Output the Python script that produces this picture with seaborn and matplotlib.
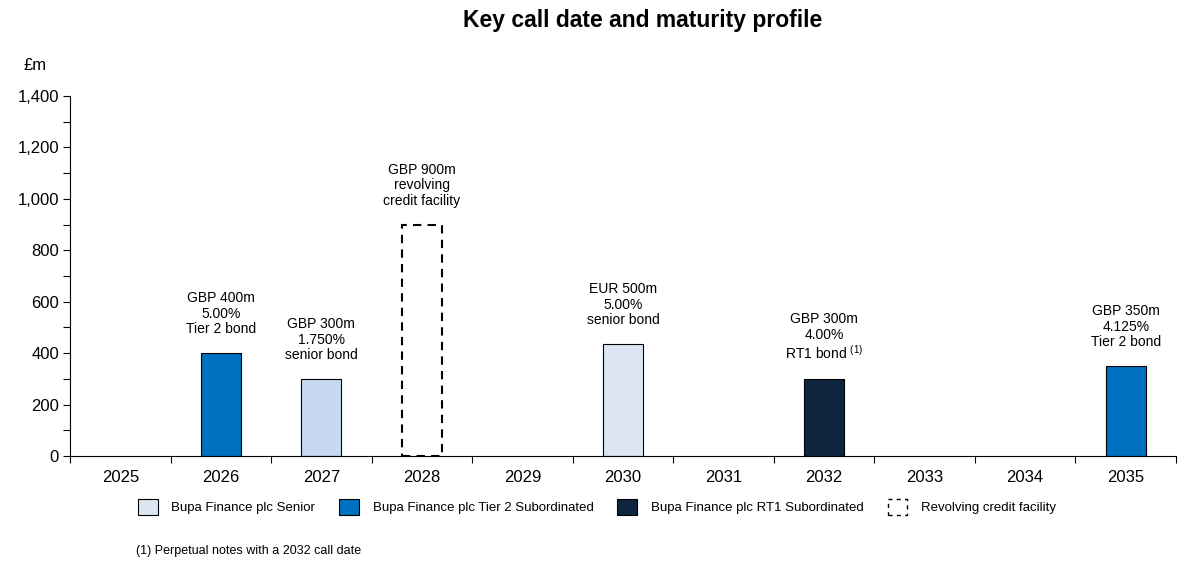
import numpy as np
import pandas as pd
import matplotlib
matplotlib.use("Agg")
import matplotlib.pyplot as plt
from matplotlib.patches import Patch
from matplotlib.ticker import MultipleLocator, FixedLocator
import seaborn as sns

years = ["2025", "2026", "2027", "2028", "2029", "2030", "2031", "2032", "2033", "2034", "2035"]

# bonds (GBP m equivalent)
bond_years = ["2026", "2027", "2030", "2032", "2035"]
bond_amounts = [400, 300, 435, 300, 350]
bond_kinds = ["Tier 2", "Senior", "Senior", "RT1", "Tier 2"]
bond_labels = [
    "GBP 400m\n5.00%\nTier 2 bond",
    "GBP 300m\n1.750%\nsenior bond",
    "EUR 500m\n5.00%\nsenior bond",
    "GBP 300m\n4.00%\nRT1 bond $^{\\mathrm{(1)}}$",
    "GBP 350m\n4.125%\nTier 2 bond",
]

# revolving credit facility
rcf_years = ["2028"]
rcf_amounts = [900]
rcf_labels = ["GBP 900m\nrevolving\ncredit facility"]

legend_names = ["Bupa Finance plc Senior", "Bupa Finance plc Tier 2 Subordinated",
                "Bupa Finance plc RT1 Subordinated", "Revolving credit facility"]

bar_colours = {"2026": "#0070C0", "2027": "#C6D9F1", "2030": "#DCE6F2",
               "2032": "#0F243E", "2035": "#0070C0"}

sns.set_style("white")
plt.rcParams["font.family"] = ["Liberation Sans", "DejaVu Sans"]
plt.rcParams["mathtext.fontset"] = "custom"
plt.rcParams["mathtext.rm"] = "Liberation Sans"
plt.rcParams["text.color"] = "black"
plt.rcParams["xtick.color"] = "black"
plt.rcParams["ytick.color"] = "black"

bonds = pd.DataFrame({"year": bond_years, "amount": bond_amounts, "kind": bond_kinds})
rcf = pd.DataFrame({"year": rcf_years, "amount": rcf_amounts})

fig = plt.figure(figsize=(11.95, 5.72), dpi=100)
ax = fig.add_axes([70 / 1195, 1 - 456 / 572, 1106 / 1195, 360 / 572])

sns.barplot(data=bonds, x="year", y="amount", hue="year", order=years, palette=bar_colours,
            saturation=1, dodge=False, width=0.4, edgecolor="black", linewidth=0.8,
            legend=False, ax=ax)
sns.barplot(data=rcf, x="year", y="amount", order=years, fill=False, color="black",
            saturation=1, width=0.4, linewidth=1.5, linestyle=(0, (4, 3)), ax=ax)

for yr, amt, lab in zip(bond_years + rcf_years, bond_amounts + rcf_amounts, bond_labels + rcf_labels):
    ax.annotate(lab, xy=(years.index(yr), amt), xytext=(0, 12), textcoords="offset points",
                ha="center", va="bottom", fontsize=10, multialignment="center", linespacing=1.15)

ax.set_xlim(-0.5, len(years) - 0.5)
ax.set_ylim(0, 1400)
ax.yaxis.set_major_locator(MultipleLocator(200))
ax.yaxis.set_minor_locator(MultipleLocator(100))
ax.yaxis.set_major_formatter(matplotlib.ticker.FuncFormatter(lambda v, p: f"{v:,.0f}"))
ax.xaxis.set_minor_locator(FixedLocator(np.arange(-0.5, len(years), 1.0)))
ax.tick_params(axis="x", which="major", length=0, pad=10, labelsize=12)
ax.tick_params(axis="x", which="minor", length=5, width=0.8, direction="out", bottom=True)
ax.tick_params(axis="y", which="both", length=5, width=0.8, direction="out", left=True, pad=3, labelsize=12)
ax.set_xlabel("")
ax.set_ylabel("")
sns.despine(ax=ax)
for s in ["left", "bottom"]:
    ax.spines[s].set_color("black")
    ax.spines[s].set_linewidth(0.8)

handles = [
    Patch(facecolor="#DCE6F2", edgecolor="black", linewidth=0.8),
    Patch(facecolor="#0070C0", edgecolor="black", linewidth=0.8),
    Patch(facecolor="#0F243E", edgecolor="black", linewidth=0.8),
    Patch(facecolor="none", edgecolor="black", linewidth=1.0, linestyle=(0, (3, 3))),
]
fig.legend(handles, legend_names, loc="center", bbox_to_anchor=(597 / 1195, 1 - 507 / 572),
           ncol=4, frameon=False, fontsize=9.5, handlelength=1.5, handleheight=1.45,
           columnspacing=1.8, handletextpad=1.05)

fig.text(643 / 1195, 1 - 21 / 572, "Key call date and maturity profile", ha="center", va="center",
         fontsize=16.5, fontweight="bold")
fig.text(35 / 1195, 1 - 65 / 572, "£m", ha="center", va="center", fontsize=12)
fig.text(136 / 1195, 1 - 551 / 572, "(1) Perpetual notes with a 2032 call date", ha="left",
         va="center", fontsize=9)

fig.savefig("out.png", dpi=100)
